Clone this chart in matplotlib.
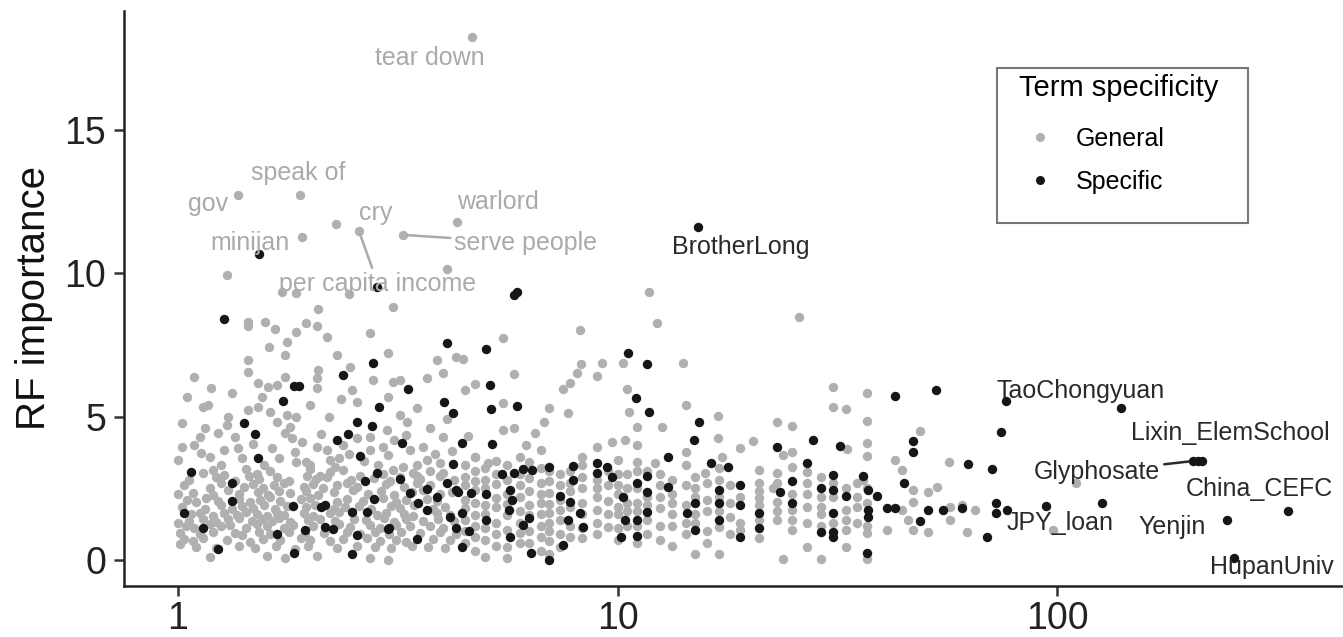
import matplotlib.pyplot as plt
from matplotlib.lines import Line2D
from matplotlib.patches import Rectangle

plt.rcParams['font.family'] = ['Liberation Sans', 'DejaVu Sans']

GREY = '#b0b0b0'
BLACK = '#161616'

# General terms (grey points)
general_x = [
    # upper part
    4.67, 1.37, 1.89, 2.29, 2.58, 3.25, 4.31, 1.91, 1.29, 4.1,
    1.72, 1.86, 2.45, 11.8, 3.08, 2.08, 25.9, 12.3, 8.2, 5.5,
    # 1 - 4.3, upper band
    1.44, 1.44, 1.58, 1.66, 1.86, 1.96, 2.07, 2.18, 1.77, 1.61,
    1.75, 1.44, 1.44, 2.73, 3.0, 2.3, 2.46, 2.08, 2.07, 2.07,
    1.75, 1.52, 1.6, 1.68, 1.19, 1.09, 1.05, 1.33, 2.49, 2.55,
    2.78, 3.08, 3.2, 3.69, 3.89, 4.0, 4.3, 3.0, 3.2, 3.32,
    1.14, 1.17, 1.44, 1.52, 1.62, 1.77, 1.86, 1.68, 1.02, 1.29,
    1.23, 1.35, 1.15, 1.75, 1.82, 1.91, 1.8, 2.07, 2.18, 2.22,
    1.02, 1.09, 1.13, 1.18, 1.27, 1.4, 1.64, 1.86, 1.96, 2.37,
    2.33, 2.73, 2.93, 2.73, 2.99, 3.37, 3.6, 3.69, 3.95, 4.0,
    3.74, 3.0, 3.25, 3.42,
    1.0, 1.0, 1.0, 1.01, 1.12, 1.25, 1.37, 1.48, 1.57, 1.7,
    1.85, 2.0, 2.12, 2.28, 2.45, 2.55, 2.65, 2.85, 3.1, 3.3,
    3.5, 3.85, 4.2, 4.1, 3.5, 2.2, 2.0, 1.3, 1.55, 2.35,
    # 1 - 4.3, dense band
    1.14, 1.20, 1.27, 1.43, 1.51, 1.62, 2.0, 2.1, 2.22, 2.37, 2.93, 3.09, 3.49, 3.74, 4.01,
    1.06, 1.22, 1.35, 1.45, 1.53, 1.68, 1.79, 1.97, 2.06, 2.18, 2.47, 2.6, 2.79, 3.04, 3.2, 3.55, 3.95, 4.25,
    1.03, 1.18, 1.25, 1.41, 1.48, 1.56, 1.65, 1.74, 1.93, 2.03, 2.14, 2.3, 2.42, 2.55, 2.98, 3.26, 3.49, 3.74,
    1.08, 1.2, 1.3, 1.38, 1.52, 1.6, 1.7, 1.8, 1.96, 2.08, 2.26, 2.5, 2.7, 2.9, 3.1, 3.4, 3.6, 3.95, 4.2,
    1.05, 1.10, 1.16, 1.23, 1.38, 1.46, 1.54, 1.62, 1.71, 1.9, 2.0, 2.3, 2.42, 2.64, 2.93, 3.14, 3.31, 3.68, 3.88,
    1.02, 1.15, 1.25, 1.33, 1.4, 1.48, 1.57, 1.66, 1.77, 1.96, 2.05, 2.27, 2.4, 2.58, 2.75, 3.05, 3.2, 3.45, 3.8, 4.05,
    1.07, 1.12, 1.2, 1.27, 1.36, 1.43, 1.51, 1.59, 1.68, 1.74, 1.93, 2.03, 2.22, 2.33, 2.83, 2.98, 3.26, 3.43, 3.88, 4.16,
    1.06, 1.14, 1.22, 1.3, 1.38, 1.47, 1.55, 1.64, 1.7, 1.8, 1.98, 2.1, 2.28, 2.52, 2.68, 2.95, 3.1, 3.3, 3.6, 3.9, 4.25,
    1.04, 1.09, 1.18, 1.25, 1.31, 1.43, 1.51, 1.59, 1.74, 1.83, 2.03, 2.33, 2.46, 2.73, 2.88, 3.14, 3.37, 3.74, 4.01,
    1.01, 1.12, 1.2, 1.35, 1.4, 1.53, 1.62, 1.79, 1.95, 2.15, 2.42, 2.6, 2.8, 3.02, 3.22, 3.55, 3.95, 4.3,
    1.03, 1.08, 1.14, 1.29, 1.46, 1.56, 1.71, 1.9, 2.0, 2.22, 2.37, 2.69, 2.88, 3.14, 3.31, 3.81, 4.16,
    1.1, 1.22, 1.38, 1.5, 1.67, 1.85, 1.98, 2.3, 2.55, 2.8, 3.05, 3.4, 3.7, 4.05,
    1.18, 1.59, 1.75, 2.07, 2.73, 3.0,
    # 4.5 - 18, columns
    4.5, 4.5, 4.5, 4.5, 4.5, 4.5, 4.5, 4.5,
    4.75, 4.75, 4.75, 4.75, 4.75, 4.75, 4.75, 4.75, 4.75,
    5.0, 5.0, 5.0, 5.0, 5.0, 5.0, 5.0, 5.0,
    5.3, 5.3, 5.3, 5.3, 5.3, 5.3, 5.3, 5.3,
    5.6, 5.6, 5.6, 5.6, 5.6, 5.6, 5.6, 5.6,
    6.0, 6.0, 6.0, 6.0, 6.0, 6.0, 6.0, 6.0,
    6.3, 6.3, 6.3, 6.3, 6.3, 6.3, 6.3,
    6.7, 6.7, 6.7, 6.7, 6.7, 6.7, 6.7, 6.7,
    7.0, 7.0, 7.0, 7.0, 7.0, 7.0, 7.0, 7.0, 7.0,
    7.4, 7.4, 7.4, 7.4, 7.4, 7.4, 7.4,
    7.8, 7.8, 7.8, 7.8, 7.8, 7.8,
    8.3, 8.3, 8.3, 8.3, 8.3, 8.3, 8.3,
    9.0, 9.0, 9.0, 9.0, 9.0, 9.0,
    9.5, 9.5, 9.5, 9.5, 9.5,
    10.0, 10.0, 10.0, 10.0, 10.0, 10.0, 10.0, 10.0,
    10.5, 10.5, 10.5, 10.5, 10.5,
    11.1, 11.1, 11.1, 11.1, 11.1, 11.1, 11.1,
    11.7, 11.7, 11.7, 11.7, 11.7,
    12.5, 12.5, 12.5, 12.5, 12.5, 12.5,
    13.3, 13.3, 13.3, 13.3, 13.3, 13.3,
    14.3, 14.3, 14.3, 14.3, 14.3,
    15.0, 15.0, 15.0, 15.0, 15.0, 15.0,
    16.0, 16.0, 16.0, 16.0, 16.0,
    17.0, 17.0, 17.0, 17.0, 17.0, 17.0,
    18.0, 18.0, 18.0, 18.0,
    # 4.5 - 19, above the band
    4.45, 8.26, 9.2, 10.3, 14.1, 5.8, 9.0, 8.1, 4.74, 4.5,
    7.5, 7.8, 10.5, 5.5, 7.0, 7.7, 6.8, 10.6, 14.3, 16.9,
    4.57, 5.5, 5.8, 6.5, 11.1, 12.6, 16.9, 19.0, 6.2, 6.7,
    9.0, 9.7, 10.4, 11.1, 8.3, 12.2, 14.3, 17.3, 15.8, 4.74,
    5.07,
    # 19 - 110
    31.0, 36.9, 31.0, 33.1, 23.1, 25.0, 36.9, 48.8, 20.3, 36.9,
    23.8, 25.0, 33.3, 36.9, 42.8, 56.8, 21.0, 23.1, 27.0, 25.0,
    29.0, 36.2, 44.5, 21.0, 22.6, 27.0, 35.0, 35.0, 47.0, 50.8,
    53.3, 19.0, 21.0, 23.1, 25.0, 27.0, 27.0, 29.0, 33.1, 35.0,
    35.0, 44.5, 47.0, 45.8, 57.0, 57.0, 60.8, 65.0, 21.0, 21.0,
    23.1, 25.0, 33.1, 36.9, 41.0, 47.0, 50.8, 62.5, 27.0, 33.1,
    23.8, 29.0, 36.9, 19.0, 19.0, 110.5, 97.9, 29.0, 31.0, 31.0,
    21.0, 21.0, 25.0, 25.0, 29.0, 29.0, 36.9, 36.9, 36.9, 33.1,
    33.1, 31.0, 27.0, 23.1, 23.1,
]
general_y = [
    18.24, 12.73, 12.73, 11.72, 11.47, 11.34, 11.79, 11.27, 9.94, 10.15,
    9.35, 9.31, 9.28, 9.35, 8.82, 8.75, 8.48, 8.27, 8.02, 7.74,
    8.3, 8.16, 8.3, 8.06, 7.95, 8.27, 8.16, 7.78, 7.6, 7.43,
    7.15, 6.98, 6.56, 7.92, 7.22, 7.15, 6.73, 6.63, 6.35, 6.0,
    6.38, 6.17, 6.03, 6.1, 6.0, 6.38, 5.69, 5.83, 5.93, 5.51,
    6.28, 6.21, 6.28, 6.35, 6.98, 6.52, 7.08, 5.69, 5.06, 4.81,
    5.34, 5.41, 5.23, 5.34, 5.16, 5.06, 4.99, 4.81, 4.78, 4.71,
    4.43, 4.29, 4.6, 4.43, 4.26, 4.12, 4.64, 3.94, 3.84, 3.49,
    3.94, 4.01, 3.73, 3.59, 3.84, 3.56, 3.91, 3.42, 3.42, 4.01,
    3.56, 3.84, 3.94, 4.29, 4.53, 3.84, 3.94, 3.49, 3.38, 4.29,
    4.6, 3.66, 3.24, 3.03,
    2.3, 1.3, 3.5, 0.55, 4.3, 3.3, 3.9, 4.05, 3.3, 3.55,
    3.75, 3.3, 4.4, 3.25, 3.7, 4.25, 3.45, 3.3, 4.2, 4.35,
    3.3, 3.7, 3.8, 4.9, 5.3, 5.0, 5.4, 5.0, 5.7, 5.6,
    3.02, 3.14, 2.96, 3.16, 3.0, 3.09, 3.18, 2.93, 3.07, 3.13, 2.98, 3.15, 2.94, 3.1, 3.04,
    2.8, 2.9, 2.76, 2.92, 2.83, 2.88, 2.77, 2.93, 2.82, 2.89, 2.79, 2.93, 2.86, 2.76, 2.9, 2.83, 2.92, 2.79,
    2.6, 2.52, 2.68, 2.56, 2.64, 2.51, 2.61, 2.69, 2.55, 2.65, 2.52, 2.6, 2.7, 2.56, 2.64, 2.53, 2.67, 2.6,
    2.35, 2.27, 2.43, 2.31, 2.38, 2.26, 2.42, 2.33, 2.4, 2.28, 2.36, 2.44, 2.31, 2.39, 2.27, 2.36, 2.43, 2.29, 2.38,
    2.1, 2.03, 2.17, 2.06, 2.13, 2.02, 2.1, 2.18, 2.05, 2.11, 2.16, 2.03, 2.12, 2.07, 2.17, 2.02, 2.1, 2.14, 2.05,
    1.85, 1.79, 1.9, 1.77, 1.87, 1.81, 1.91, 1.78, 1.88, 1.83, 1.91, 1.77, 1.86, 1.89, 1.79, 1.87, 1.81, 1.91, 1.78, 1.85,
    1.6, 1.65, 1.54, 1.63, 1.56, 1.66, 1.6, 1.53, 1.64, 1.58, 1.65, 1.54, 1.62, 1.67, 1.55, 1.63, 1.6, 1.53, 1.65, 1.58,
    1.37, 1.44, 1.34, 1.41, 1.46, 1.35, 1.42, 1.37, 1.45, 1.33, 1.4, 1.44, 1.35, 1.42, 1.38, 1.46, 1.33, 1.41, 1.37, 1.44, 1.35,
    1.2, 1.13, 1.24, 1.17, 1.21, 1.12, 1.24, 1.18, 1.13, 1.23, 1.17, 1.24, 1.15, 1.21, 1.13, 1.22, 1.17, 1.2, 1.12,
    0.95, 0.9, 0.99, 0.93, 0.88, 0.97, 0.91, 0.98, 0.9, 0.95, 0.99, 0.91, 0.97, 0.89, 0.98, 0.93, 0.96, 0.9,
    0.72, 0.66, 0.75, 0.7, 0.64, 0.74, 0.68, 0.76, 0.7, 0.65, 0.73, 0.75, 0.67, 0.71, 0.64, 0.74, 0.7,
    0.45, 0.41, 0.49, 0.43, 0.48, 0.39, 0.47, 0.42, 0.49, 0.44, 0.4, 0.48, 0.45, 0.41,
    0.1, 0.15, 0.05, 0.12, 0.08, 0.0,
    3.3, 2.9, 2.6, 2.1, 1.8, 1.4, 1.0, 0.6,
    3.6, 3.1, 2.75, 2.45, 2.0, 1.55, 1.2, 0.8, 0.3,
    3.2, 2.8, 2.5, 1.9, 1.6, 1.1, 0.7, 0.1,
    3.45, 3.0, 2.65, 2.15, 1.85, 1.3, 0.9, 0.5,
    3.3, 2.8, 2.3, 1.95, 1.55, 1.05, 0.45, 0.05,
    3.6, 3.0, 2.6, 2.2, 1.7, 1.3, 0.95, 0.6,
    3.4, 2.85, 2.4, 1.9, 1.55, 1.0, 0.6,
    3.2, 2.7, 2.3, 2.0, 1.6, 1.2, 0.8, 0.3,
    3.1, 2.75, 2.35, 1.95, 1.65, 1.3, 1.0, 0.65, 0.2,
    3.0, 2.6, 2.1, 1.75, 1.4, 0.9, 0.45,
    3.1, 2.7, 2.4, 1.85, 1.2, 0.8,
    3.3, 2.9, 2.5, 2.0, 1.6, 1.1, 0.75,
    2.8, 2.5, 2.2, 1.75, 1.3, 0.9,
    3.1, 2.6, 2.05, 1.6, 1.15,
    3.5, 3.0, 2.6, 2.3, 1.85, 1.6, 1.1, 0.7,
    3.0, 2.5, 2.0, 1.7, 1.2,
    3.4, 3.1, 2.5, 2.0, 1.7, 1.2, 0.6,
    3.1, 2.2, 1.9, 1.4, 0.9,
    3.0, 2.6, 2.2, 1.8, 1.2, 0.7,
    2.8, 2.3, 2.0, 1.6, 1.2, 0.5,
    3.3, 2.6, 1.9, 1.3, 0.9,
    2.9, 2.5, 2.2, 1.6, 1.3, 0.2,
    2.7, 2.1, 1.7, 1.0, 0.6,
    3.2, 2.8, 2.2, 1.7, 1.15, 0.2,
    2.6, 2.0, 1.5, 0.9,
    7.01, 6.84, 6.87, 6.87, 6.87, 6.49, 6.42, 6.52, 6.14, 5.93,
    5.96, 6.17, 5.96, 5.48, 5.3, 5.13, 4.81, 5.16, 5.41, 5.02,
    4.32, 4.53, 4.6, 4.43, 4.64, 4.64, 4.26, 3.91, 4.01, 3.84,
    3.94, 4.12, 4.19, 4.01, 3.59, 3.38, 3.77, 3.59, 3.03, 3.59,
    3.38,
    6.03, 5.83, 5.34, 5.27, 4.81, 4.67, 4.85, 4.5, 4.15, 4.08,
    3.66, 3.77, 3.87, 3.63, 3.49, 3.42, 3.14, 3.03, 3.07, 3.24,
    2.9, 2.79, 3.14, 2.69, 2.51, 2.69, 2.69, 2.2, 2.44, 2.37,
    2.55, 2.2, 2.16, 2.02, 1.74, 1.85, 1.29, 1.85, 1.74, 1.85,
    1.29, 1.74, 2.02, 1.4, 1.85, 1.4, 1.92, 1.74, 1.4, 0.77,
    1.4, 1.05, 1.05, 0.94, 1.05, 1.05, 0.98, 0.98, 0.45, 0.45,
    0.03, 0.03, 0.03, 1.05, 1.3, 2.69, 1.05, 2.2, 2.2, 1.3,
    2.4, 1.9, 2.3, 1.4, 1.6, 1.2, 2.0, 1.2, 2.5, 2.5,
    1.4, 2.7, 2.3, 2.7, 1.7,
]

# Specific terms (black points)
specific_x = [
    15.25, 1.53, 2.84, 5.9, 5.8, 1.27, 4.1, 5.02, 10.57, 11.67,
    2.78, 2.37, 1.84, 1.88, 3.34, 5.13, 1.73, 2.86, 4.03, 4.22,
    5.16, 5.9, 11.0, 11.8, 15.3, 1.41, 2.55, 2.76, 1.5, 2.44,
    2.3, 3.23, 4.43, 5.18, 14.9, 1.52, 2.6, 4.22, 13.0, 16.3,
    17.8, 1.07, 1.33, 2.66, 2.84, 3.2, 3.37, 3.69, 3.89, 4.1,
    4.3, 7.0, 7.9, 9.0, 9.46, 5.47, 5.8, 6.1, 6.4, 7.92,
    9.0, 9.7, 11.1, 11.7, 13.0, 19.0, 1.33, 1.83, 2.12, 2.16,
    2.79, 2.49, 2.69, 3.52, 3.69, 4.16, 1.03, 4.33, 4.64, 5.02,
    5.69, 5.75, 7.4, 7.8, 10.3, 11.7, 15.0, 17.0, 17.0, 19.0,
    4.43, 5.02, 5.66, 6.3, 7.7, 8.2, 10.4, 11.1, 11.7, 14.4,
    17.0, 1.14, 1.68, 1.94, 2.16, 2.25, 2.55, 3.0, 3.02, 3.5,
    4.3, 4.6, 6.1, 5.69, 8.35, 10.2, 11.1, 15.0, 19.0, 1.23,
    1.84, 2.49, 4.43, 6.35, 7.5, 7.0, 42.8, 53.0, 76.5, 74.4,
    27.8, 23.1, 32.0, 47.0, 47.0, 27.0, 62.9, 71.3, 25.0, 31.0,
    36.2, 44.8, 23.4, 29.0, 31.0, 33.1, 37.1, 39.0, 21.0, 25.0,
    31.0, 37.1, 37.1, 41.0, 42.8, 50.8, 55.0, 60.8, 48.8, 72.8,
    72.8, 77.0, 21.0, 29.0, 31.0, 31.0, 36.9, 69.4, 139.8, 204.0,
    209.0, 214.0, 94.4, 126.6, 243.7, 335.5, 252.8,
]
specific_y = [
    11.6, 10.67, 9.52, 9.35, 9.24, 8.4, 7.57, 7.36, 7.22, 6.84,
    6.87, 6.45, 6.05, 6.05, 5.96, 6.1, 5.55, 5.34, 5.51, 5.13,
    5.27, 5.37, 5.65, 5.16, 4.81, 4.78, 4.81, 4.67, 4.4, 4.4,
    4.19, 4.08, 4.08, 4.05, 4.19, 3.56, 3.63, 3.35, 3.59, 3.38,
    3.24, 3.07, 2.69, 2.76, 3.03, 2.83, 2.34, 2.48, 2.2, 2.69,
    2.44, 3.24, 3.28, 3.38, 3.24, 3.0, 3.03, 3.17, 3.14, 2.79,
    3.03, 2.9, 2.69, 2.93, 2.55, 2.62, 2.06, 1.88, 1.85, 1.92,
    2.13, 1.67, 1.67, 1.99, 1.74, 1.5, 1.64, 2.37, 2.34, 2.3,
    2.44, 2.09, 2.23, 2.02, 2.2, 2.37, 1.99, 2.44, 1.99, 1.92,
    1.64, 1.4, 1.74, 1.46, 1.4, 1.64, 1.4, 1.4, 1.67, 1.64,
    1.4, 1.12, 0.91, 1.05, 1.15, 1.08, 0.87, 1.08, 1.12, 0.73,
    1.12, 1.0, 1.22, 0.8, 1.15, 0.8, 0.84, 1.05, 0.8, 0.38,
    0.24, 0.21, 0.45, 0.24, 0.52, 0.0, 5.72, 5.93, 5.55, 4.46,
    4.19, 3.94, 3.98, 4.15, 3.77, 3.38, 3.35, 3.17, 2.76, 2.96,
    2.93, 2.69, 2.37, 2.51, 2.44, 2.23, 2.44, 2.23, 1.64, 1.99,
    1.64, 1.74, 1.5, 1.81, 1.81, 1.74, 1.74, 1.81, 1.36, 1.99,
    1.64, 1.74, 1.12, 0.98, 0.98, 0.8, 0.24, 0.8, 5.3, 3.45,
    3.45, 3.45, 1.88, 1.99, 1.4, 1.71, 0.07,
]

# Text labels (placed as in the reference)
label_text = ["tear down", "speak of", "gov", "cry", "warlord", "minijan",
              "serve people", "per capita income",
              "BrotherLong", "TaoChongyuan", "Lixin_ElemSchool", "Glyphosate",
              "China_CEFC", "JPY_loan", "Yenjin", "HupanUniv"]
label_x = [3.745, 1.875, 1.17, 2.82, 5.35, 1.458, 6.19, 2.85,
           19.1, 113.4, 248.0, 123.3, 288.0, 101.6, 182.7, 308.5]
label_y = [17.51, 13.5, 12.42, 12.1, 12.49, 11.06, 11.06, 9.63,
           10.92, 5.89, 4.43, 3.07, 2.48, 1.29, 1.15, -0.24]
label_group = ["General"] * 8 + ["Specific"] * 8

# labels connected to their point by a segment
seg_label = ["serve people", "per capita income", "Glyphosate"]
seg_x = [3.25, 2.58, 204.0]
seg_y = [11.34, 11.47, 3.45]

fig = plt.figure(figsize=(13.43, 6.37), dpi=100)
ax = fig.add_axes([124 / 1343, 51 / 637, 1 - 124 / 1343, (637 - 11 - 51) / 637])

ax.scatter(general_x, general_y, s=46, color=GREY, linewidths=0, zorder=2)
ax.scatter(specific_x, specific_y, s=46, color=BLACK, linewidths=0, zorder=3)

for t, x, y, g in zip(label_text, label_x, label_y, label_group):
    col = '#aaaaaa' if g == "General" else '#2a2a2a'
    if t in seg_label:
        i = seg_label.index(t)
        ax.annotate(t, xy=(seg_x[i], seg_y[i]), xytext=(x, y), ha='center', va='center',
                    fontsize=18, color=col, zorder=4,
                    arrowprops=dict(arrowstyle='-', color=col, lw=1.8, shrinkA=1, shrinkB=3))
    else:
        ax.text(x, y, t, ha='center', va='center', fontsize=18, color=col, zorder=4)

ax.set_xscale('log')
ax.set_xlim(0.7535, 447.5)
ax.set_ylim(-0.91, 19.15)
ax.set_xticks([1, 10, 100])
ax.set_xticklabels(['1', '10', '100'])
ax.minorticks_off()
ax.set_yticks([0, 5, 10, 15])
ax.set_ylabel('RF importance', fontsize=29, color='#111111', labelpad=8)

for side in ['top', 'right']:
    ax.spines[side].set_visible(False)
for side in ['left', 'bottom']:
    ax.spines[side].set_linewidth(1.8)
    ax.spines[side].set_color('#222222')
ax.tick_params(axis='both', length=7, width=1.8, color='#333333',
               labelsize=27, labelcolor='#222222')
ax.tick_params(axis='y', pad=6)
ax.tick_params(axis='x', pad=4)

# legend: entries without frame, box drawn separately
handles = [Line2D([], [], marker='o', linestyle='', markersize=6.5, color=GREY, markeredgewidth=0),
           Line2D([], [], marker='o', linestyle='', markersize=6.5, color=BLACK, markeredgewidth=0)]
leg = ax.legend(handles, ['General', 'Specific'], title='Term specificity',
                loc='upper left', bbox_to_anchor=(1019 / 1343, 1 - 74 / 637),
                bbox_transform=fig.transFigure, borderaxespad=0, borderpad=0,
                fontsize=18, title_fontsize=21, alignment='left', frameon=False,
                labelspacing=0.76, handletextpad=0.58, handlelength=1.68)
leg._legend_box.sep = 18
fig.add_artist(Rectangle((997 / 1343, 1 - 223 / 637), (1248 - 997) / 1343, (223 - 68) / 637,
                         transform=fig.transFigure, fill=False, edgecolor='#777777', lw=1.5))

fig.savefig('out.png', dpi=100)
